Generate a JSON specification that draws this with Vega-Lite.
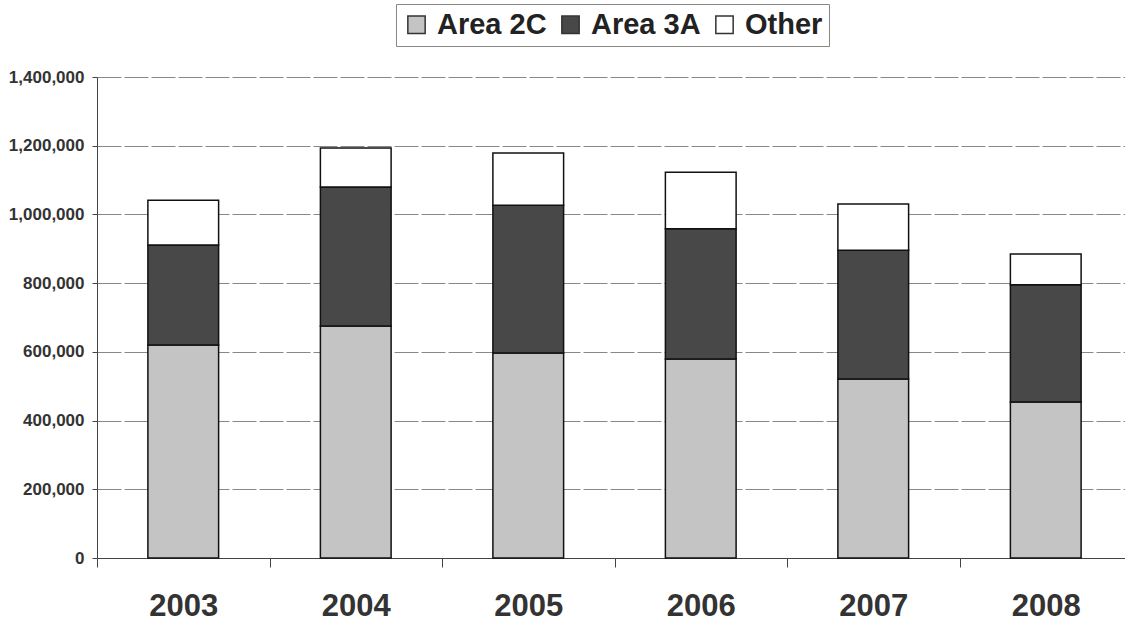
{
  "$schema": "https://vega.github.io/schema/vega-lite/v6.json",
  "width": 1035,
  "height": 481,
  "autosize": "none",
  "padding": {"left": 97, "top": 77, "right": -7, "bottom": 66},
  "background": "white",
  "data": {"values": [
    {"year": "2003", "area": "Area 2C", "ord": 1, "value": 620000},
    {"year": "2003", "area": "Area 3A", "ord": 2, "value": 291000},
    {"year": "2003", "area": "Other", "ord": 3, "value": 130000},
    {"year": "2004", "area": "Area 2C", "ord": 1, "value": 675000},
    {"year": "2004", "area": "Area 3A", "ord": 2, "value": 405000},
    {"year": "2004", "area": "Other", "ord": 3, "value": 113000},
    {"year": "2005", "area": "Area 2C", "ord": 1, "value": 597000},
    {"year": "2005", "area": "Area 3A", "ord": 2, "value": 430000},
    {"year": "2005", "area": "Other", "ord": 3, "value": 152000},
    {"year": "2006", "area": "Area 2C", "ord": 1, "value": 579000},
    {"year": "2006", "area": "Area 3A", "ord": 2, "value": 379000},
    {"year": "2006", "area": "Other", "ord": 3, "value": 165000},
    {"year": "2007", "area": "Area 2C", "ord": 1, "value": 521000},
    {"year": "2007", "area": "Area 3A", "ord": 2, "value": 375000},
    {"year": "2007", "area": "Other", "ord": 3, "value": 134000},
    {"year": "2008", "area": "Area 2C", "ord": 1, "value": 454000},
    {"year": "2008", "area": "Area 3A", "ord": 2, "value": 341000},
    {"year": "2008", "area": "Other", "ord": 3, "value": 90000}
  ]},
  "config": {
    "font": "Liberation Sans",
    "view": {"stroke": null}
  },
  "mark": {"type": "bar", "stroke": "#111111", "strokeWidth": 1.5, "width": {"band": 0.41}},
  "encoding": {
    "x": {
      "field": "year", "type": "ordinal",
      "scale": {"paddingInner": 0, "paddingOuter": 0},
      "axis": {
        "title": null, "labelAngle": 0, "labelFontSize": 31, "labelFontWeight": "bold",
        "labelColor": "#333333", "labelBaseline": "top", "labelPadding": 24,
        "tickBand": "extent", "tickSize": 9, "tickColor": "#444444",
        "domainColor": "#444444", "grid": false
      }
    },
    "y": {
      "field": "value", "type": "quantitative", "stack": "zero",
      "scale": {"domain": [0, 1400000]},
      "axis": {
        "title": null, "format": ",d", "values": [0, 200000, 400000, 600000, 800000, 1000000, 1200000, 1400000],
        "labelFontSize": 17, "labelFontWeight": "bold", "labelColor": "#333333",
        "labelPadding": 8, "tickSize": 5, "tickColor": "#444444", "domainColor": "#444444",
        "gridColor": "#888888", "gridDash": [24, 3]
      }
    },
    "color": {
      "field": "area", "type": "nominal",
      "scale": {"domain": ["Area 2C", "Area 3A", "Other"], "range": ["#c4c4c4", "#484848", "#ffffff"]},
      "legend": {
        "title": null, "orient": "none", "direction": "horizontal",
        "legendX": 299, "legendY": -73,
        "symbolType": "square", "symbolSize": 300, "symbolStrokeColor": "#333333", "symbolStrokeWidth": 1.5,
        "labelFontSize": 29, "labelFontWeight": "bold", "labelColor": "#222222",
        "columnPadding": 9, "labelOffset": 6,
        "strokeColor": "#888888", "padding": 6, "fillColor": "white"
      }
    },
    "order": {"field": "ord", "type": "quantitative"}
  }
}
